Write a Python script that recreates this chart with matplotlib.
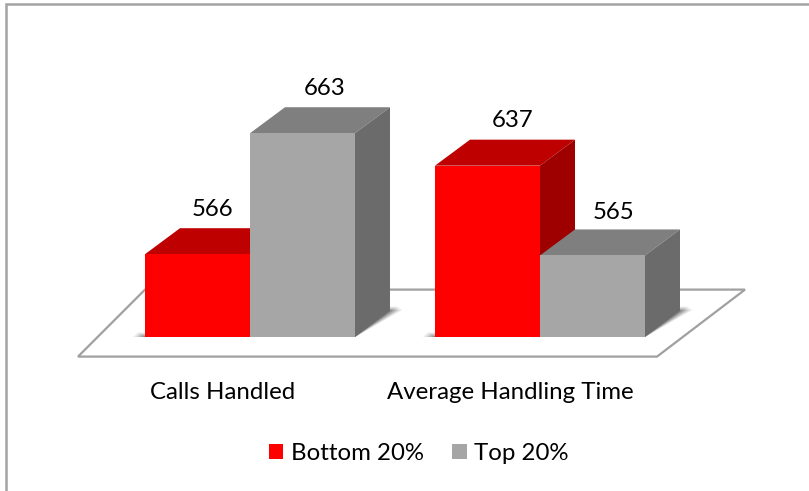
import matplotlib
matplotlib.use("Agg")
import matplotlib.pyplot as plt
from matplotlib.patches import Polygon, Patch

categories = ["Calls Handled", "Average Handling Time"]
series_names = ["Bottom 20%", "Top 20%"]
bottom_20 = [566, 637]
top_20 = [663, 565]

W, H = 809, 491
BASE = 499.6
PX_PER_UNIT = 1.247
CAT_PX = 290.0
CAT0_PX = 250.0
BASE_PX = 337.0

def X(px):
    return (px - CAT0_PX) / CAT_PX

def Y(py):
    return BASE + (BASE_PX - py) / PX_PER_UNIT

plt.rcParams["font.family"] = ["Lato", "DejaVu Sans"]
fig = plt.figure(figsize=(W / 100, H / 100), dpi=100, facecolor="white")
ax = fig.add_axes([0, 0, 1, 1])
ax.set_xlim(X(0), X(W))
ax.set_ylim(Y(H), Y(0))
ax.axis("off")

BAR_W = 105.0 / CAT_PX
DX = 35.0 / CAT_PX
DY = 26.0 / PX_PER_UNIT
FS = 17.3

# outer chart border
ax.plot([X(6), X(6), X(W)], [Y(H), Y(4), Y(4)], color="#A3A3A3", lw=1.8,
        solid_joinstyle="miter", zorder=1)

# floor
floor = [(X(78), Y(356.6)), (X(657), Y(356.6)), (X(745), Y(289.6)), (X(145), Y(289.6))]
ax.add_patch(Polygon(floor, closed=True, facecolor="white", edgecolor="#A0A0A0",
                     lw=1.6, zorder=2, joinstyle="miter"))

# soft shadows
for i in range(len(categories)):
    x0 = i - BAR_W
    x1 = i + BAR_W
    for k, a in zip([3, 2, 1, 0], [0.12, 0.18, 0.25, 0.35]):
        g = (k + 1) * 3.0 / CAT_PX
        lift = (k + 1) * 1.1 / PX_PER_UNIT
        pts = [(x0 - g, BASE), (x1, BASE), (x1 + DX + g, BASE + DY + lift * 0.2),
               (x1 + DX + g * 0.6, BASE + DY + lift), (x1 + DX, BASE + DY + lift),
               (x0, BASE + lift), (x0 - g * 0.6, BASE + lift)]
        ax.add_patch(Polygon(pts, closed=True, facecolor="#555555", edgecolor="none",
                             alpha=a, zorder=3))

front = ["#FF0000", "#A6A6A6"]
top_c = ["#BE0000", "#7F7F7F"]
side_c = ["#9E0000", "#6B6B6B"]
label_nudge_x_px = [[15.5, 25.5], [22.5, 20.5]]
label_nudge_y_px = [[45, 45], [45, 43]]

z = 4
for i in range(len(categories)):
    for j, vals in enumerate([bottom_20, top_20]):
        v = vals[i]
        left = i - BAR_W + j * BAR_W
        right = left + BAR_W
        ax.bar(left, v - BASE, width=BAR_W, bottom=BASE, align="edge",
               color=front[j], edgecolor="none", zorder=z + 0.2)
        ax.add_patch(Polygon([(left, v), (right, v), (right + DX, v + DY), (left + DX, v + DY)],
                             closed=True, facecolor=top_c[j], edgecolor="none", zorder=z))
        ax.add_patch(Polygon([(right, BASE), (right + DX, BASE + DY), (right + DX, v + DY), (right, v)],
                             closed=True, facecolor=side_c[j], edgecolor="none", zorder=z))
        ax.annotate(str(v), xy=(left + BAR_W / 2, v),
                    xytext=(label_nudge_x_px[j][i] * 0.72, label_nudge_y_px[j][i] * 0.72),
                    textcoords="offset points", ha="center", va="center",
                    fontsize=FS, color="black", zorder=20)
        z += 1

cat_label_px = [223, 510]
for name, px in zip(categories, cat_label_px):
    ax.text(X(px), Y(392.5), name, ha="center", va="center", fontsize=FS, color="black")

handles = [Patch(facecolor=front[0], edgecolor="none"), Patch(facecolor=front[1], edgecolor="none")]
ax.legend(handles, series_names, loc="center", bbox_to_anchor=(418.5 / W, 1 - 453.5 / H),
          ncols=2, frameon=False, fontsize=FS, handlelength=0.62, handleheight=0.62,
          handletextpad=0.3, columnspacing=1.17, borderpad=0, labelcolor="black")

fig.savefig("out.png", dpi=100, facecolor="white")
